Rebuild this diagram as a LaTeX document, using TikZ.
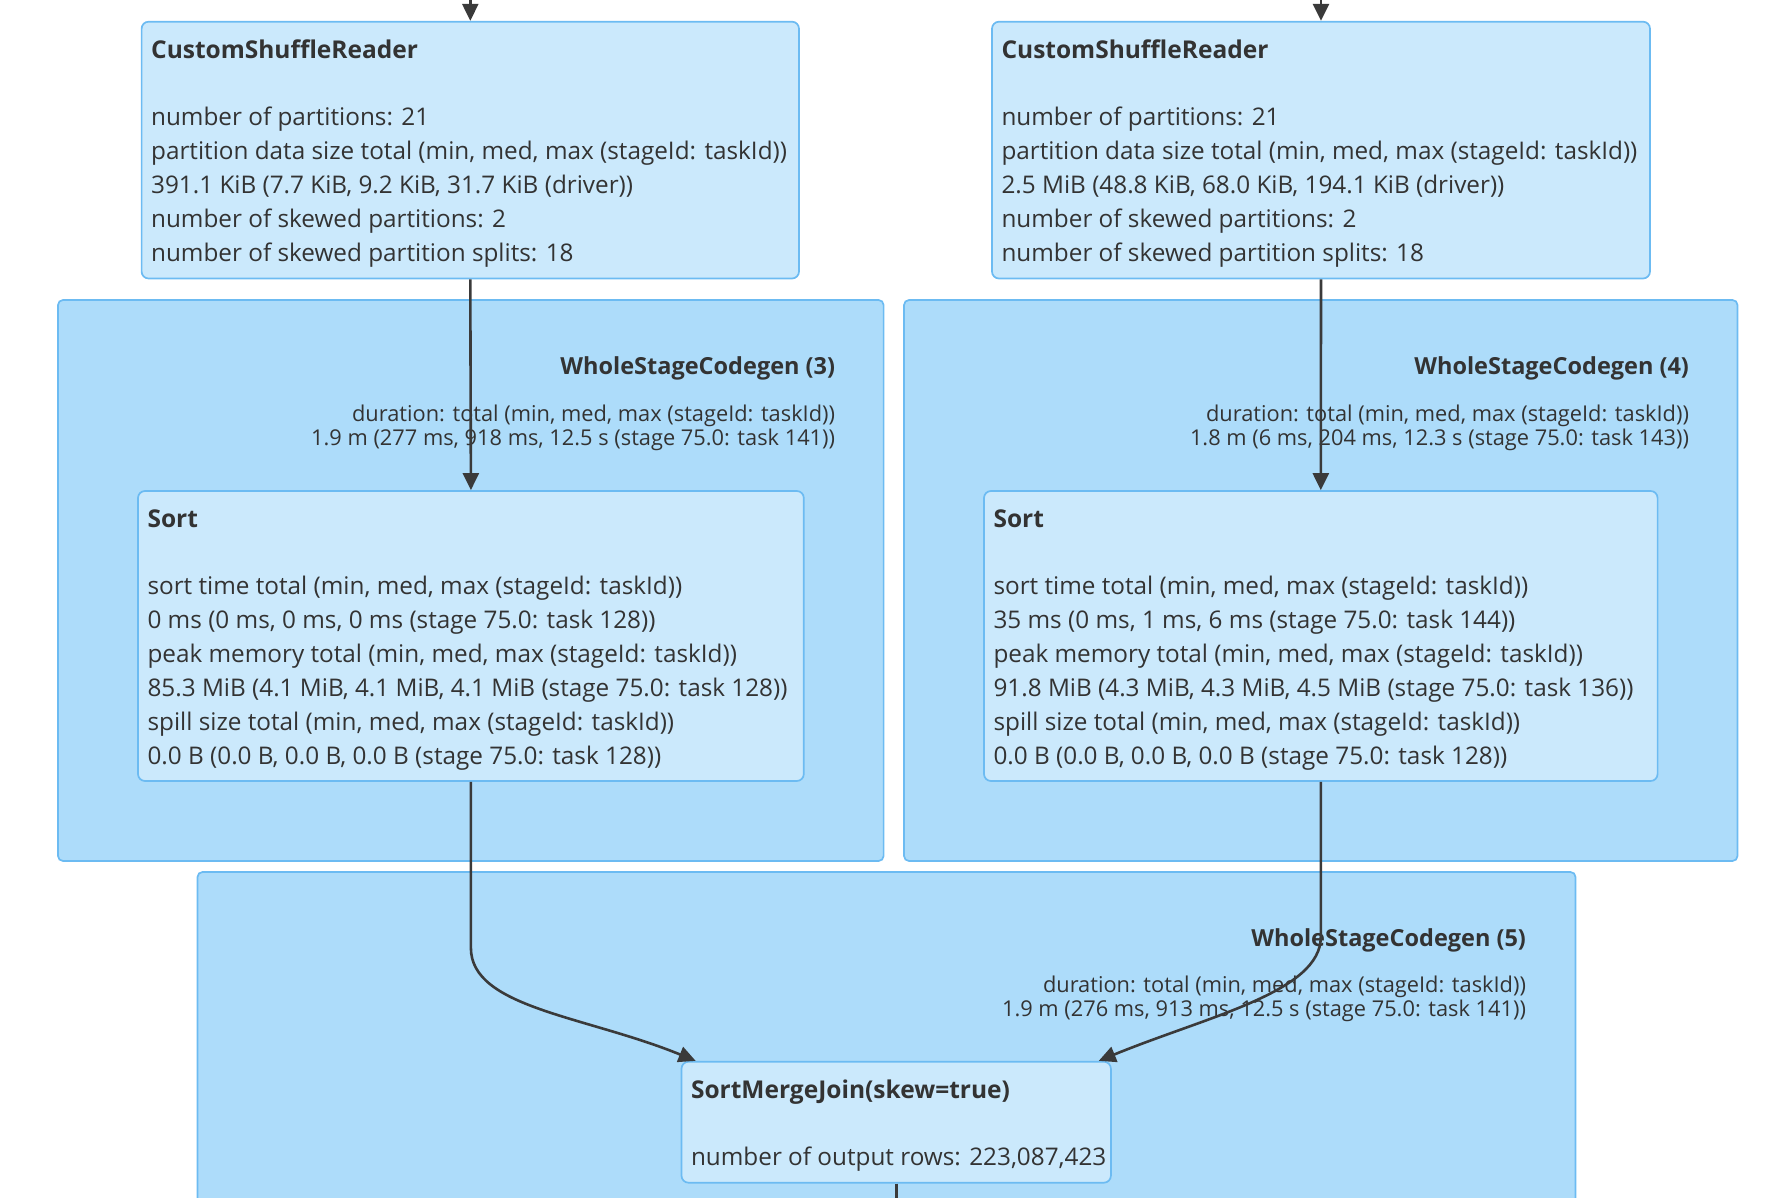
\documentclass[tikz,border=0pt]{standalone}
\usepackage{fontspec}
\setmainfont{Open Sans}
\usetikzlibrary{arrows.meta,positioning}
\definecolor{clusterblue}{RGB}{173,220,250}
\definecolor{nodeblue}{RGB}{203,233,252}
\definecolor{lineblue}{RGB}{108,187,242}
\definecolor{txtgray}{RGB}{51,51,51}
\definecolor{edgegray}{RGB}{58,58,58}

\begin{document}
\begin{tikzpicture}[x=0.5pt,y=-0.5pt,
    cluster/.style={draw=lineblue,fill=clusterblue,line width=0.85pt,rounded corners=2.5pt,inner sep=0pt},
    plan/.style={draw=lineblue,fill=nodeblue,line width=0.85pt,rounded corners=3.5pt,inner sep=0pt},
    ttl/.style={font=\bfseries\fontsize{12.25}{14}\selectfont,text=txtgray,inner sep=0pt,anchor=base west},
    body/.style={font=\fontsize{12.15}{17}\selectfont,text=txtgray,inner sep=0pt,anchor=base west},
    wtitle/.style={font=\bfseries\fontsize{11.75}{14}\selectfont,text=txtgray,inner sep=0pt,anchor=base east},
    wbody/.style={font=\fontsize{10.9}{11.5}\selectfont,text=txtgray,inner sep=0pt,anchor=base east},
    flow/.style={draw=edgegray,line width=1.3pt,-{Triangle[width=8pt,length=8.5pt]}}]

\useasboundingbox (0,0) rectangle (1790,1198);
\clip (0,0) rectangle (1790,1198);

\newcommand{\ttlshift}{-18.7pt}
\newcommand{\bodyshift}{-52.4pt}

% codegen clusters
\node[cluster,minimum width=412.8pt,minimum height=280.5pt] (wsc3) at (470.8,580.5) {};
\node[cluster,minimum width=416.75pt,minimum height=280.5pt] (wsc4) at (1320.75,580.5) {};
\node[cluster,minimum width=689pt,minimum height=184pt] (wsc5) at (886.5,1056) {};

\node[wtitle] (wsc3t) at ([xshift=-24.5pt,yshift=-37.7pt]wsc3.north east) {WholeStageCodegen (3)};
\node[wbody] (wsc3b) at ([xshift=-24.5pt,yshift=-61.2pt]wsc3.north east)
  {\begin{tabular}[t]{@{}r@{}}duration: total (min, med, max (stageId: taskId))\\
   1.9 m (277 ms, 918 ms, 12.5 s (stage 75.0: task 141))\end{tabular}};

\node[wtitle] (wsc4t) at ([xshift=-24.5pt,yshift=-37.7pt]wsc4.north east) {WholeStageCodegen (4)};
\node[wbody] (wsc4b) at ([xshift=-24.5pt,yshift=-61.2pt]wsc4.north east)
  {\begin{tabular}[t]{@{}r@{}}duration: total (min, med, max (stageId: taskId))\\
   1.8 m (6 ms, 204 ms, 12.3 s (stage 75.0: task 143))\end{tabular}};

\node[wtitle] (wsc5t) at ([xshift=-25pt,yshift=-37.7pt]wsc5.north east) {WholeStageCodegen (5)};
\node[wbody] (wsc5b) at ([xshift=-25pt,yshift=-60.7pt]wsc5.north east)
  {\begin{tabular}[t]{@{}r@{}}duration: total (min, med, max (stageId: taskId))\\
   1.9 m (276 ms, 913 ms, 12.5 s (stage 75.0: task 141))\end{tabular}};

% plan nodes
\node[plan,minimum width=328.7pt,minimum height=128.4pt] (csrA) at (470.3,150.1) {};
\node[plan,minimum width=329pt,minimum height=128.4pt] (csrB) at (1321,150.1) {};
\node[plan,minimum width=332.9pt,minimum height=145pt] (sortA) at (470.9,636) {};
\node[plan,minimum width=336.8pt,minimum height=145pt] (sortB) at (1320.8,636) {};
\node[plan,minimum width=214.7pt,minimum height=60.5pt] (smj) at (896.2,1122.2) {};

\node[ttl] (csrAt) at ([xshift=5pt,yshift=\ttlshift]csrA.north west) {CustomShuffleReader};
\node[body] (csrAb) at ([xshift=5pt,yshift=\bodyshift]csrA.north west)
  {\begin{tabular}[t]{@{}l@{}}number of partitions: 21\\
   partition data size total (min, med, max (stageId: taskId))\\
   391.1 KiB (7.7 KiB, 9.2 KiB, 31.7 KiB (driver))\\
   number of skewed partitions: 2\\
   number of skewed partition splits: 18\end{tabular}};

\node[ttl] (csrBt) at ([xshift=5pt,yshift=\ttlshift]csrB.north west) {CustomShuffleReader};
\node[body] (csrBb) at ([xshift=5pt,yshift=\bodyshift]csrB.north west)
  {\begin{tabular}[t]{@{}l@{}}number of partitions: 21\\
   partition data size total (min, med, max (stageId: taskId))\\
   2.5 MiB (48.8 KiB, 68.0 KiB, 194.1 KiB (driver))\\
   number of skewed partitions: 2\\
   number of skewed partition splits: 18\end{tabular}};

\node[ttl] (sortAt) at ([xshift=5pt,yshift=\ttlshift]sortA.north west) {Sort};
\node[body] (sortAb) at ([xshift=5pt,yshift=\bodyshift]sortA.north west)
  {\begin{tabular}[t]{@{}l@{}}sort time total (min, med, max (stageId: taskId))\\
   0 ms (0 ms, 0 ms, 0 ms (stage 75.0: task 128))\\
   peak memory total (min, med, max (stageId: taskId))\\
   85.3 MiB (4.1 MiB, 4.1 MiB, 4.1 MiB (stage 75.0: task 128))\\
   spill size total (min, med, max (stageId: taskId))\\
   0.0 B (0.0 B, 0.0 B, 0.0 B (stage 75.0: task 128))\end{tabular}};

\node[ttl] (sortBt) at ([xshift=5pt,yshift=\ttlshift]sortB.north west) {Sort};
\node[body] (sortBb) at ([xshift=5pt,yshift=\bodyshift]sortB.north west)
  {\begin{tabular}[t]{@{}l@{}}sort time total (min, med, max (stageId: taskId))\\
   35 ms (0 ms, 1 ms, 6 ms (stage 75.0: task 144))\\
   peak memory total (min, med, max (stageId: taskId))\\
   91.8 MiB (4.3 MiB, 4.3 MiB, 4.5 MiB (stage 75.0: task 136))\\
   spill size total (min, med, max (stageId: taskId))\\
   0.0 B (0.0 B, 0.0 B, 0.0 B (stage 75.0: task 128))\end{tabular}};

\node[ttl] (smjt) at ([xshift=5pt,yshift=\ttlshift]smj.north west) {SortMergeJoin(skew=true)};
\node[body] (smjb) at ([xshift=5pt,yshift=\bodyshift]smj.north west) {number of output rows: 223,087,423};

% edges
\coordinate (inA) at (470.3,-10);
\coordinate (inB) at (1321,-10);
\coordinate (out) at (896.2,1215);

\draw[flow] (inA) -- (csrA.north);
\draw[flow] (inB) -- (csrB.north);
\draw[flow] (csrA.south) -- (sortA.north);
\draw[flow] (csrB.south) -- (sortB.north);
\draw[flow] (sortA.south) -- ++(0,166) .. controls +(0,60) and +(-110,-45) .. ([xshift=7.5pt]smj.north west);
\draw[flow] (sortB.south) -- ++(0,155) .. controls +(0,55) and +(110,-45) .. ([xshift=-6.5pt]smj.north east);
\draw[draw=edgegray,line width=1.3pt] (smj.south) -- (out);

\end{tikzpicture}
\end{document}
